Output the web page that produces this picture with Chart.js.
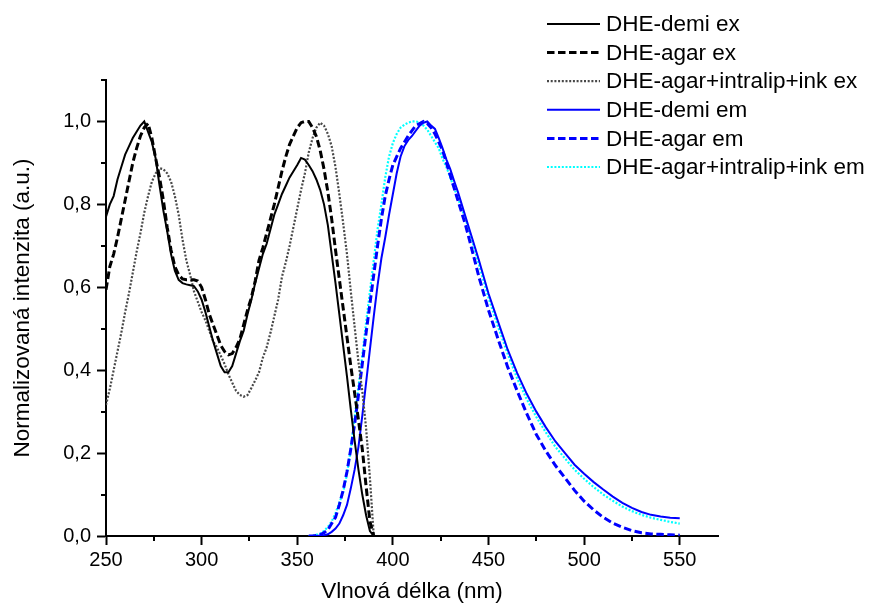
<!DOCTYPE html>
<html lang="cs">
<head>
<meta charset="utf-8">
<title>DHE spektra</title>
<script src="https://cdn.jsdelivr.net/npm/chart.js@4.4.1/dist/chart.umd.min.js"></script>
<style>
  html, body { margin: 0; padding: 0; background: #fff; }
  #wrap { width: 870px; height: 606px; }
</style>
</head>
<body>
<div id="wrap"><canvas id="chart" width="870" height="606"></canvas></div>
<script>
"use strict";

// excitation spectra (nm / normalised intensity)
const exNm = [
  250, 252, 254, 256, 258, 260, 262, 264, 266, 268,
  270, 272, 274, 276, 278, 280, 282, 284, 286, 288,
  290, 292, 294, 296, 298, 300, 302, 304, 306, 308,
  310, 312, 314, 316, 318, 320, 322, 324, 326, 328,
  330, 332, 334, 336, 338, 340, 342, 344, 346, 348,
  350, 352, 354, 356, 358, 360, 362, 364, 366, 368,
  370, 372, 374, 376, 378, 380, 382, 384, 386, 388,
  390,
];
const demiEx = [
  0.77, 0.8, 0.82, 0.86, 0.89, 0.92, 0.94, 0.96, 0.975, 0.99,
  1.0, 0.975, 0.95, 0.91, 0.845, 0.785, 0.735, 0.68, 0.64, 0.618,
  0.61, 0.607, 0.605, 0.603, 0.59, 0.57, 0.54, 0.505, 0.47, 0.44,
  0.41, 0.395, 0.395, 0.41, 0.44, 0.47, 0.495, 0.535, 0.57, 0.61,
  0.645, 0.68, 0.705, 0.74, 0.775, 0.8, 0.825, 0.845, 0.865, 0.88,
  0.895, 0.912, 0.908, 0.895, 0.88, 0.86, 0.835, 0.8, 0.75, 0.68,
  0.61, 0.535, 0.46, 0.385, 0.305, 0.23, 0.16, 0.1, 0.05, 0.012,
  0,
];
const agarEx = [
  0.594, 0.65, 0.68, 0.72, 0.765, 0.81, 0.855, 0.9, 0.935, 0.965,
  0.985, 0.995, 0.96, 0.91, 0.865, 0.81, 0.745, 0.69, 0.65, 0.63,
  0.62, 0.618, 0.618, 0.618, 0.615, 0.6, 0.57, 0.535, 0.51, 0.485,
  0.46, 0.445, 0.437, 0.44, 0.455, 0.475, 0.51, 0.545, 0.575, 0.615,
  0.665, 0.695, 0.73, 0.765, 0.8, 0.84, 0.88, 0.915, 0.945, 0.965,
  0.985, 0.997, 1.0, 1.0, 0.985, 0.964, 0.93, 0.885, 0.83, 0.765,
  0.69, 0.62, 0.55, 0.48, 0.41, 0.345, 0.28, 0.21, 0.12, 0.035,
  0,
];
const intralipEx = [
  0.316, 0.355, 0.4, 0.445, 0.49, 0.54, 0.585, 0.635, 0.685, 0.73,
  0.78, 0.82, 0.855, 0.875, 0.887, 0.885, 0.875, 0.855, 0.82, 0.775,
  0.715, 0.665, 0.63, 0.59, 0.565, 0.54, 0.52, 0.495, 0.47, 0.455,
  0.435, 0.415, 0.39, 0.37, 0.35, 0.34, 0.336, 0.34, 0.357, 0.375,
  0.395, 0.43, 0.455, 0.49, 0.53, 0.57, 0.625, 0.66, 0.7, 0.745,
  0.79, 0.835, 0.875, 0.925, 0.96, 0.985, 0.997, 0.99, 0.97, 0.94,
  0.89, 0.825, 0.755, 0.68, 0.59, 0.505, 0.42, 0.35, 0.26, 0.14,
  0,
];

// emission spectra
const emNm = [
  356, 358, 360, 362, 364, 366, 368, 370, 372, 374,
  376, 378, 380, 382, 384, 386, 388, 390, 392, 394,
  396, 398, 400, 402, 404, 406, 408, 410, 412, 414,
  416, 418, 420, 422, 424, 426, 428, 430, 432, 434,
  436, 438, 440,
  445, 450, 455, 460, 465, 470, 475, 480, 485, 490,
  495, 500, 505, 510, 515, 520, 525, 530, 535, 540,
  545, 550,
];
const demiEm = [
  0, 0, 0, 0.001, 0.002, 0.004, 0.01, 0.018, 0.03, 0.05,
  0.075, 0.115, 0.16, 0.215, 0.29, 0.37, 0.45, 0.53, 0.605, 0.67,
  0.72, 0.775, 0.825, 0.875, 0.915, 0.94, 0.955, 0.965, 0.978, 0.99,
  0.997, 1.0, 0.99, 0.982, 0.96, 0.935, 0.908, 0.885, 0.857, 0.83,
  0.8, 0.77, 0.74,
  0.665, 0.585, 0.517, 0.45, 0.393, 0.343, 0.3, 0.262, 0.228, 0.2,
  0.172, 0.15, 0.13, 0.112, 0.095, 0.08, 0.068, 0.058, 0.051, 0.047,
  0.044, 0.043,
];
const agarEm = [
  0, 0, 0.001, 0.003, 0.008, 0.015, 0.03, 0.045, 0.075, 0.11,
  0.155, 0.21, 0.27, 0.34, 0.415, 0.49, 0.56, 0.63, 0.7, 0.765,
  0.82, 0.86, 0.895, 0.915, 0.935, 0.95, 0.965, 0.978, 0.99, 0.995,
  1.0, 0.995, 0.985, 0.97, 0.95, 0.93, 0.9, 0.87, 0.84, 0.81,
  0.78, 0.75, 0.715,
  0.625, 0.545, 0.475, 0.408, 0.35, 0.295, 0.245, 0.205, 0.17, 0.14,
  0.11, 0.084, 0.063, 0.045, 0.031, 0.021, 0.013, 0.008, 0.005, 0.004,
  0.003, 0.002,
];
const intralipEm = [
  0, 0, 0.003, 0.006, 0.012, 0.022, 0.035, 0.055, 0.08, 0.105,
  0.15, 0.21, 0.285, 0.36, 0.435, 0.515, 0.59, 0.665, 0.74, 0.8,
  0.865, 0.915, 0.948, 0.97, 0.985, 0.992, 0.997, 1.0, 1.0, 0.998,
  0.99, 0.98, 0.965, 0.95, 0.935, 0.91, 0.89, 0.865, 0.84, 0.815,
  0.79, 0.765, 0.735,
  0.655, 0.575, 0.505, 0.44, 0.38, 0.33, 0.287, 0.25, 0.215, 0.187,
  0.16, 0.138, 0.118, 0.1, 0.085, 0.071, 0.06, 0.051, 0.044, 0.039,
  0.034, 0.03,
];

const seriesNames = [
  "DHE-demi ex",
  "DHE-agar ex",
  "DHE-agar+intralip+ink ex",
  "DHE-demi em",
  "DHE-agar em",
  "DHE-agar+intralip+ink em",
];

// axis ticks
const xMajor = [250, 300, 350, 400, 450, 500, 550];
const xMinor = [275, 325, 375, 425, 475, 525];
const yMinor = [0.1, 0.3, 0.5, 0.7, 0.9, 1.1];

const FONT = "'Liberation Sans', Arial, Helvetica, sans-serif";
Chart.defaults.font.family = FONT;
Chart.defaults.color = "#000";

const pts = (xs, ys) => xs.map((x, i) => ({ x: x, y: ys[i] }));

const solid = { borderWidth: 2, borderDash: [] };
const dashed = { borderWidth: 3, borderDash: [7.5, 3.5] };
const dotted = { borderWidth: 2.2, borderDash: [2, 1.7] };

const datasets = [
  { label: seriesNames[0], data: pts(exNm, demiEx), borderColor: "#000000", ...solid },
  { label: seriesNames[1], data: pts(exNm, agarEx), borderColor: "#000000", ...dashed },
  { label: seriesNames[2], data: pts(exNm, intralipEx), borderColor: "#484848", ...dotted },
  { label: seriesNames[3], data: pts(emNm, demiEm), borderColor: "#0000ff", ...solid },
  { label: seriesNames[4], data: pts(emNm, agarEm), borderColor: "#0000ff", ...dashed },
  { label: seriesNames[5], data: pts(emNm, intralipEm), borderColor: "#00ffff", ...dotted },
];

// short outward ticks between the labelled ones
const minorTicks = {
  id: "minorTicks",
  afterDraw(chart) {
    const { ctx, chartArea, scales } = chart;
    ctx.save();
    ctx.strokeStyle = "#000";
    ctx.lineWidth = 2;
    ctx.beginPath();
    xMinor.forEach((v) => {
      const px = Math.round(scales.x.getPixelForValue(v));
      ctx.moveTo(px, chartArea.bottom);
      ctx.lineTo(px, chartArea.bottom + 5);
    });
    yMinor.forEach((v) => {
      const py = Math.round(scales.y.getPixelForValue(v));
      ctx.moveTo(chartArea.left, py);
      ctx.lineTo(chartArea.left - 5, py);
    });
    ctx.stroke();
    ctx.restore();
  },
};

// legend block in the top right corner
const sideLegend = {
  id: "sideLegend",
  afterDraw(chart) {
    const ctx = chart.ctx;
    ctx.save();
    ctx.font = "22.5px " + FONT;
    ctx.textBaseline = "middle";
    ctx.fillStyle = "#000";
    chart.data.datasets.forEach((ds, i) => {
      const y = 24 + i * 28.6;
      ctx.beginPath();
      ctx.strokeStyle = ds.borderColor;
      ctx.lineWidth = ds.borderWidth;
      ctx.setLineDash(ds.borderDash);
      ctx.moveTo(547, y);
      ctx.lineTo(600, y);
      ctx.stroke();
      ctx.setLineDash([]);
      ctx.fillText(ds.label, 606, y + 1);
    });
    ctx.restore();
  },
};

const config = {
  type: "line",
  data: { datasets },
  options: {
    responsive: false,
    animation: false,
    devicePixelRatio: 1,
    layout: { padding: { top: 80, right: 152, left: 0, bottom: 0 } },
    elements: { point: { radius: 0 }, line: { tension: 0, fill: false } },
    plugins: { legend: { display: false }, tooltip: { enabled: false } },
    scales: {
      x: {
        type: "linear",
        min: 250,
        max: 570,
        afterFit: (scale) => { scale.height = 70; },
        afterBuildTicks: (scale) => { scale.ticks = xMajor.map((v) => ({ value: v })); },
        border: { display: true, color: "#000", width: 2 },
        grid: { drawOnChartArea: false, tickLength: 9, tickWidth: 2, tickColor: "#000" },
        ticks: { font: { size: 20 }, padding: 3, maxRotation: 0, callback: (v) => String(v) },
        title: { display: true, text: "Vlnová délka (nm)", font: { size: 22.5 }, padding: { top: 0, bottom: 1 } },
      },
      y: {
        type: "linear",
        min: 0,
        max: 1.1,
        afterFit: (scale) => { scale.width = 106; },
        ticks: {
          stepSize: 0.2,
          includeBounds: false,
          font: { size: 20 },
          padding: 6,
          callback: (v) => v.toFixed(1).replace(".", ","),
        },
        border: { display: true, color: "#000", width: 2 },
        grid: { drawOnChartArea: false, tickLength: 9, tickWidth: 2, tickColor: "#000" },
        title: { display: true, text: "Normalizovaná intenzita (a.u.)", font: { size: 22.5 }, padding: { top: 9, bottom: 0 } },
      },
    },
  },
  plugins: [minorTicks, sideLegend],
};

const myChart = new Chart(document.getElementById("chart"), config);
</script>
</body>
</html>
